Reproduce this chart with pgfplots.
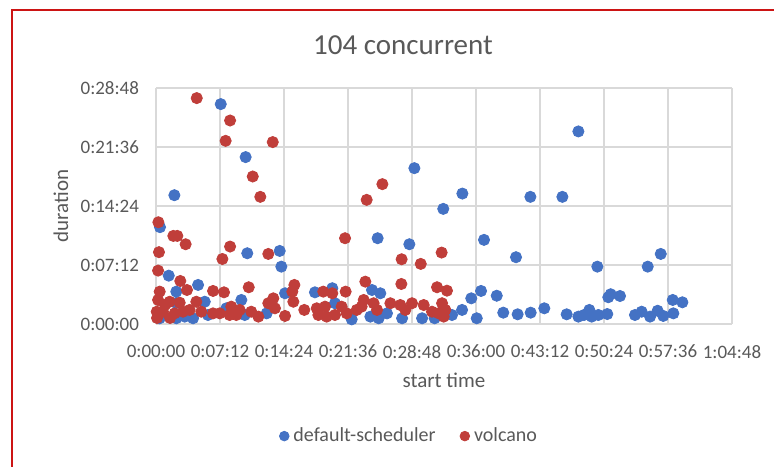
\documentclass[border=0pt]{standalone}
\usepackage{pgfplots}
\pgfplotsset{compat=1.18}
\usepackage{fontspec}
\setmainfont{Carlito}
\definecolor{dsblue}{RGB}{68,114,196}
\definecolor{vcred}{RGB}{192,62,58}
\definecolor{txtgray}{RGB}{89,89,89}
\definecolor{gridgray}{RGB}{217,217,217}
\definecolor{framered}{RGB}{204,20,20}
\begin{document}
\begin{tikzpicture}
\path[use as bounding box] (0,0) rectangle (387pt,233pt);
\fill[white] (0,0) rectangle (387pt,233pt);
\begin{axis}[
  at={(78pt,71pt)}, anchor=south west,
  scale only axis, width=288pt, height=118pt,
  xmin=0, xmax=3888, ymin=0, ymax=1728,
  xtick={0,432,864,1296,1728,2160,2592,3024,3456,3888},
  xticklabels={0:00:00,0:07:12,0:14:24,0:21:36,0:28:48,0:36:00,0:43:12,0:50:24,0:57:36,1:04:48},
  ytick={0,432,864,1296,1728},
  yticklabels={0:00:00,0:07:12,0:14:24,0:21:36,0:28:48},
  /pgf/number format/assume math mode=true,
  tick style={draw=none},
  ticklabel style={font=\fontsize{9.5}{11}\selectfont, text=txtgray},
  yticklabel style={xshift=-5pt},
  xticklabel style={yshift=-7pt},
  grid=major, major grid style={gridgray, line width=0.6pt},
  axis line style={gridgray, line width=0.6pt},
  axis x line*=bottom, axis y line*=left,
  xlabel={start time}, ylabel={duration},
  label style={font=\fontsize{10.5}{12}\selectfont, text=txtgray},
  xlabel style={at={(axis description cs:0.5,-0.24)}, anchor=center},
  ylabel style={at={(axis description cs:-0.165,0.5)}, anchor=center},
  legend columns=2,
  legend style={at={(axis description cs:0.441,-0.475)}, anchor=center, draw=none, fill=none,
    font=\fontsize{10}{12}\selectfont, text=txtgray, /tikz/every even column/.append style={column sep=10pt}},
  legend image code/.code={\fill (0.12cm,0cm) circle (2.4pt);},
  clip=false,
]
\addplot[only marks, mark=*, mark size=2.8pt, dsblue, mark options={draw=dsblue, fill=dsblue}] table {
x y
437 1610
605 1222
124 943
1744 1141
2068 955
2527 931
2743 931
1939 843
2851 1410
27 709
616 518
835 535
846 420
1496 628
1710 584
2214 616
2430 489
2979 420
3319 420
3407 513
86 354
284 286
137 237
137 154
329 163
576 176
25 42
137 42
194 54
250 42
351 66
475 115
599 66
871 225
1073 232
1190 262
747 78
1208 152
1321 34
1458 249
1514 225
1447 54
1503 42
1559 78
1661 42
1796 42
1881 42
1998 66
2066 103
2128 188
2194 242
2300 207
2165 42
2344 83
2441 71
2529 83
2621 115
2772 71
2851 54
2889 66
2925 103
2941 54
2986 66
3046 73
3053 196
3069 218
3132 205
3233 66
3278 90
3335 54
3386 97
3424 59
3492 78
3488 176
3553 159
};
\addlegendentry{default-scheduler}
\addplot[only marks, mark=*, mark size=2.8pt, vcred, mark options={draw=vcred, fill=vcred}] table {
x y
275 1654
500 1490
470 1341
788 1332
653 1080
704 931
1528 1024
1422 909
16 745
117 645
144 645
200 584
20 526
500 567
448 476
758 513
1276 628
1658 474
1787 440
1928 523
14 391
164 315
25 237
209 249
385 242
459 232
626 269
14 176
92 163
160 156
272 163
508 127
5 90
47 90
126 78
182 90
227 103
306 90
385 78
430 78
497 66
542 66
565 103
643 90
934 286
920 237
1129 237
1190 225
1280 237
792 188
758 152
927 163
691 54
803 115
1001 103
1085 115
1141 127
1096 66
1152 54
1208 66
1253 127
1287 78
1355 103
1388 127
1413 310
1656 293
1897 269
1964 244
1402 176
1469 152
1492 103
1582 152
1649 139
1728 152
1807 139
1931 152
1683 103
1863 90
1908 78
1953 103
1942 54
61 139
95 44
7 44
871 59
};
\addlegendentry{volcano}
\end{axis}
\node[text=txtgray, font=\fontsize{14.5}{17}\selectfont] at (201.5pt,210.5pt) {104 concurrent};
\draw[framered, line width=1pt] (6pt,-1pt) -- (6pt,228pt) -- (388pt,228pt);
\end{tikzpicture}
\end{document}
